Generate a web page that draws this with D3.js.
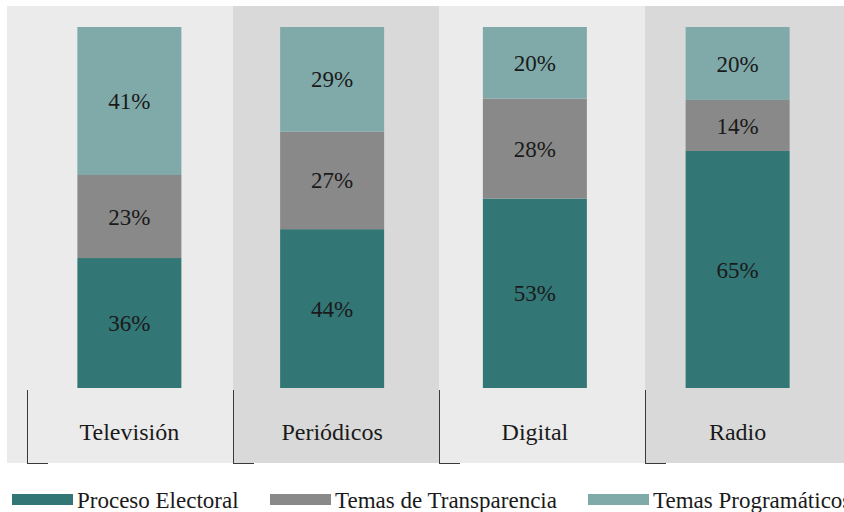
<!DOCTYPE html>
<html>
<head>
<meta charset="utf-8">
<script src="https://cdn.jsdelivr.net/npm/d3@7"></script>
<style>
  body { margin: 0; background: #fff; }
</style>
</head>
<body>
<svg id="chart" width="844" height="512"></svg>
<script>
var categories = ["Televisión", "Periódicos", "Digital", "Radio"];
var seriesNames = ["Proceso Electoral", "Temas de Transparencia", "Temas Programáticos"];
var procesoElectoral = [36, 44, 53, 65];
var temasTransparencia = [23, 27, 28, 14];
var temasProgramaticos = [41, 29, 20, 20];
var seriesColors = ["#327676", "#898989", "#80aaaa"];

var svg = d3.select("#chart");
var W = 844;
var plotTop = 27, plotBottom = 388;
var FONT = "Liberation Serif";

var rows = categories.map(function (c, i) {
  return { cat: c, p0: procesoElectoral[i], p1: temasTransparencia[i], p2: temasProgramaticos[i] };
});
var keys = ["p0", "p1", "p2"];
var stacked = d3.stack().keys(keys).offset(d3.stackOffsetExpand)(rows);

// bands (background + ticks) and bars use slightly different spacing
var x = d3.scaleBand().domain(categories).range([27, 27 + 4 * 206]);
var xBar = d3.scaleBand().domain(categories).range([28, 839]);
var y = d3.scaleLinear().domain([0, 1]).range([plotBottom, plotTop]);
var barW = 104;
function barCenter(c) { return xBar(c) + xBar.bandwidth() / 2; }

// Plot background with alternating bands
svg.append("rect").attr("x", 7).attr("y", 6).attr("width", W - 7).attr("height", 457).attr("fill", "#ebebeb");
svg.selectAll(".band").data(categories.filter(function (d, i) { return i % 2 === 1; }))
  .enter().append("rect").attr("class", "band")
  .attr("x", function (d) { return x(d); })
  .attr("y", 6)
  .attr("width", x.bandwidth())
  .attr("height", 457)
  .attr("fill", "#d9d9d9");

// Stacked bars
var layer = svg.selectAll(".layer").data(stacked).enter().append("g")
  .attr("class", "layer")
  .attr("fill", function (d, i) { return seriesColors[i]; });

layer.selectAll("rect").data(function (d) { return d; }).enter().append("rect")
  .attr("x", function (d) { return barCenter(d.data.cat) - barW / 2; })
  .attr("y", function (d) { return y(d[1]); })
  .attr("width", barW)
  .attr("height", function (d) { return y(d[0]) - y(d[1]); });

// Value labels
layer.each(function (s) {
  var key = s.key;
  d3.select(this).selectAll("text").data(s).enter().append("text")
    .attr("x", function (d) { return barCenter(d.data.cat); })
    .attr("y", function (d) { return (y(d[0]) + y(d[1])) / 2; })
    .attr("dy", "0.35em")
    .attr("text-anchor", "middle")
    .attr("fill", "#1a1a1a")
    .attr("font-family", FONT)
    .attr("font-size", 23)
    .text(function (d) { return d.data[key] + "%"; });
});

// Category axis: tick lines at band edges
var ticks = svg.append("g").attr("class", "axis");
ticks.selectAll(".vt").data(categories).enter().append("line")
  .attr("x1", function (d) { return x(d) + 0.5; })
  .attr("x2", function (d) { return x(d) + 0.5; })
  .attr("y1", 390).attr("y2", 463.5)
  .attr("stroke", "#3a3a3a").attr("stroke-width", 1);
ticks.selectAll(".ht").data(categories).enter().append("line")
  .attr("x1", function (d) { return x(d); })
  .attr("x2", function (d) { return x(d) + 21; })
  .attr("y1", 463.5).attr("y2", 463.5)
  .attr("stroke", "#3a3a3a").attr("stroke-width", 1);
ticks.selectAll("text").data(categories).enter().append("text")
  .attr("x", function (d) { return barCenter(d); })
  .attr("y", 432)
  .attr("dy", "0.35em")
  .attr("text-anchor", "middle")
  .attr("fill", "#1a1a1a")
  .attr("font-family", FONT)
  .attr("font-size", 24)
  .text(function (d) { return d; });

// Legend
var legendX = [12, 270, 588];
var legend = svg.selectAll(".legend").data(seriesNames).enter().append("g")
  .attr("class", "legend")
  .attr("transform", function (d, i) { return "translate(" + legendX[i] + ",494)"; });
legend.append("rect").attr("width", 61).attr("height", 11)
  .attr("fill", function (d, i) { return seriesColors[i]; });
legend.append("text").attr("x", 65).attr("y", 5.5).attr("dy", "0.35em")
  .attr("fill", "#1a1a1a")
  .attr("font-family", FONT)
  .attr("font-size", 23)
  .text(function (d) { return d; });
</script>
</body>
</html>
